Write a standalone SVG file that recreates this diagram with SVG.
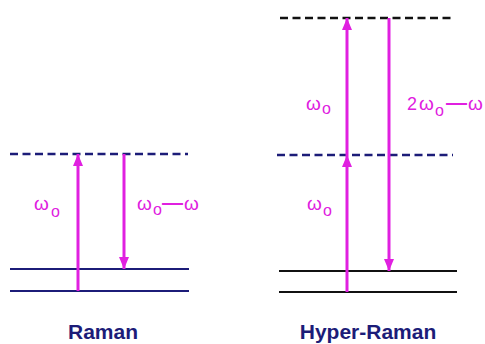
<svg xmlns="http://www.w3.org/2000/svg" width="485" height="344" viewBox="0 0 485 344">
<style>
.navy{stroke:#1c1c78;stroke-width:2;fill:none}
.blk{stroke:#111;stroke-width:2;fill:none}
.dash{stroke-dasharray:8 4.5;stroke-width:2.5}
.arr{stroke:#e020e0;stroke-width:3;fill:none}
.lbl{font-family:"Liberation Sans",Arial,sans-serif;font-size:19px;fill:#e020e0}
.sub{font-size:16px}
.dsh{font-size:21px;font-weight:bold}
.ttl{font-family:"Liberation Sans",Arial,sans-serif;font-size:21px;font-weight:bold;fill:#1c1c78;text-anchor:middle}
</style>
<defs>
<marker id="ah" markerUnits="userSpaceOnUse" viewBox="0 0 12 10" refX="12" refY="5" markerWidth="12" markerHeight="10" orient="auto">
<path d="M0,0 L12,5 L0,10 Z" fill="#e020e0"/>
</marker>
</defs>
<rect width="485" height="344" fill="#fff"/>
<g id="raman-levels">
<line class="navy dash" x1="10" y1="154" x2="188" y2="154"/>
<line class="navy" x1="10" y1="269" x2="189" y2="269"/>
<line class="navy" x1="10" y1="291" x2="189" y2="291"/>
</g>
<g id="hyper-levels">
<line class="blk dash" x1="280" y1="18" x2="455" y2="18"/>
<line class="navy dash" x1="277" y1="155" x2="453" y2="155"/>
<line class="blk" x1="279" y1="271" x2="457" y2="271"/>
<line class="blk" x1="279" y1="292" x2="457" y2="292"/>
</g>
<g id="connectors">
<line class="arr" x1="78" y1="291" x2="78" y2="154" marker-end="url(#ah)"/>
<line class="arr" x1="124" y1="154" x2="124" y2="269" marker-end="url(#ah)"/>
<line class="arr" x1="347" y1="292" x2="347" y2="155" marker-end="url(#ah)"/>
<line class="arr" x1="347" y1="155" x2="347" y2="18" marker-end="url(#ah)"/>
<line class="arr" x1="389" y1="18" x2="389" y2="271" marker-end="url(#ah)"/>
</g>
<g id="labels">
<text class="lbl"><tspan x="34" y="210">ω</tspan><tspan class="sub" x="51" y="217">o</tspan></text>
<text class="lbl"><tspan x="137" y="210">ω</tspan><tspan class="sub" x="153" y="215">o</tspan><tspan class="dsh" x="162" y="209">—</tspan><tspan x="184" y="210">ω</tspan></text>
<text class="lbl"><tspan x="306" y="110">ω</tspan><tspan class="sub" x="322" y="114">o</tspan></text>
<text class="lbl"><tspan x="307" y="210">ω</tspan><tspan class="sub" x="323" y="216">o</tspan></text>
<text class="lbl"><tspan x="407" y="110" font-size="18">2</tspan><tspan x="419" y="110">ω</tspan><tspan class="sub" x="435" y="116">o</tspan><tspan class="dsh" x="446" y="109">—</tspan><tspan x="468" y="110">ω</tspan></text>
</g>
<g id="titles">
<text class="ttl" x="103" y="339">Raman</text>
<text class="ttl" x="368" y="339">Hyper-Raman</text>
</g>
</svg>
